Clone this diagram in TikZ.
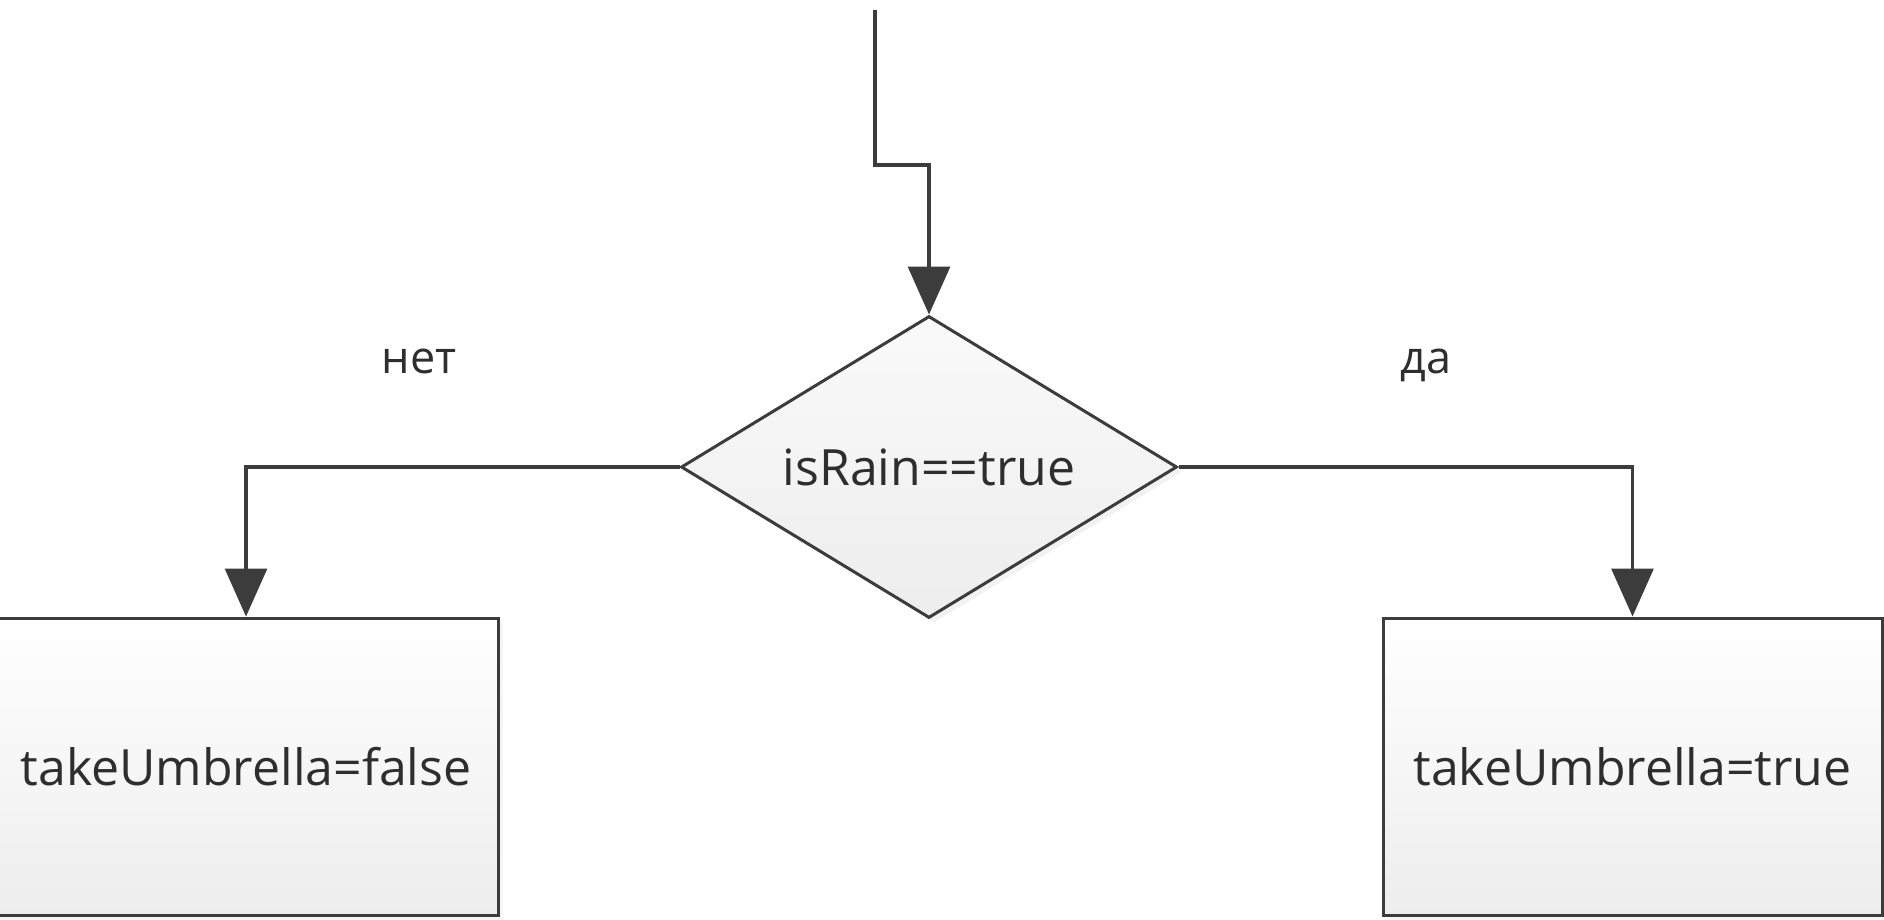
\documentclass[tikz,border=0pt]{standalone}
\usepackage{fontspec}
\setmainfont{Open Sans}
\usetikzlibrary{shapes.geometric,arrows.meta,shadows}
\definecolor{edge}{HTML}{3C3C3C}
\definecolor{ink}{HTML}{2E2E2E}
\begin{document}
\begin{tikzpicture}[x=1pt,y=-1pt,
  every node/.style={text=ink,font=\fontsize{50}{60}\selectfont},
  flow/.style={draw=edge,line width=3.2pt,-{Triangle[length=48pt,width=42pt]}},
  decision/.style={shape=diamond,aspect=1.65,draw=edge,line width=3pt,inner sep=0pt,
    minimum width=496pt,minimum height=302pt,
    top color=white!98!black,bottom color=white!93!black,
    drop shadow={opacity=0.10,shadow xshift=5pt,shadow yshift=-5pt}},
  action/.style={shape=rectangle,draw=edge,line width=3pt,inner sep=0pt,
    minimum height=297pt,
    top color=white,bottom color=white!93!black,
    drop shadow={opacity=0.08,shadow xshift=5pt,shadow yshift=-5pt}},
  answer/.style={anchor=base,font=\fontsize{45}{54}\selectfont}]
  \useasboundingbox[fill=white] (0,0) rectangle (1884,920);

  % decision and the two branches
  \node[decision] (d) at (929,467) {isRain==true};
  \node[action,minimum width=504pt] (lb) at (246,766.5) {takeUmbrella=false};
  \node[action,minimum width=499pt] (rb) at (1632.5,766.5) {takeUmbrella=true};

  % branch labels
  \node[answer] (no) at (419,373) {нет};
  \node[answer] (yes) at (1426,373) {да};

  % incoming flow
  \coordinate (top) at (875,10);
  \coordinate (bend) at (875,165);
  \draw[flow] (top) -- (bend) -| (d.north);

  % outgoing flows
  \draw[flow] (d.west) -| (lb.north);
  \draw[flow] (d.east) -| (rb.north);
\end{tikzpicture}
\end{document}
